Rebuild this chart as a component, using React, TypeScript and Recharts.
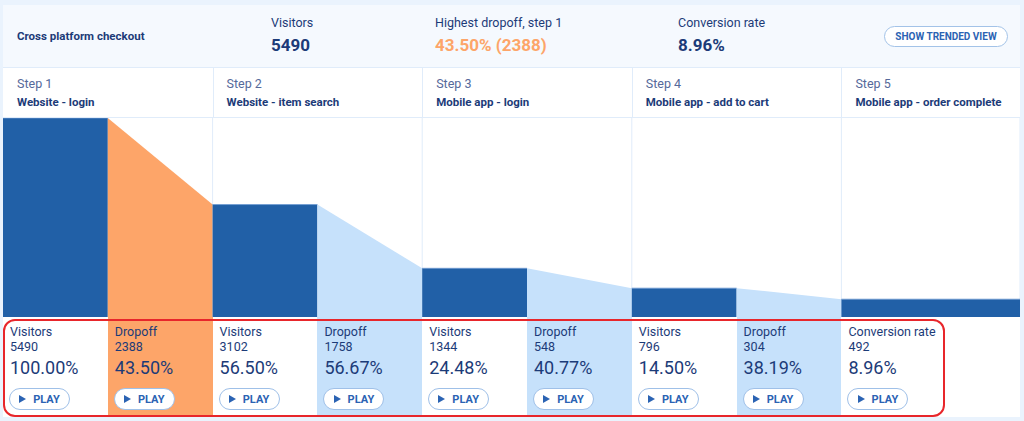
import React from "react"
import { ComposedChart, Area, XAxis, YAxis, CartesianGrid } from "recharts"

// funnel data
const stepNames = [
  "Website - login",
  "Website - item search",
  "Mobile app - login",
  "Mobile app - add to cart",
  "Mobile app - order complete",
]
const visitors = [5490, 3102, 1344, 796, 492]
const dropoffs = [2388, 1758, 548, 304]
const visitorPct = ["100.00%", "56.50%", "24.48%", "14.50%", "8.96%"]
const dropoffPct = ["43.50%", "56.67%", "40.77%", "38.19%"]

const DARK = "#2160a7"
const ORANGE = "#fda569"
const LIGHT = "#c6e1fb"
const NAVY = "#1c3b78"
const LINE = "#e0ecfa"
const FONT = "Roboto, 'Noto Sans', sans-serif"

const LEFT = 3
const RIGHT = 1020
const HALF = 104.8 // px per half column
const XMAX = (RIGHT - LEFT) / HALF

const highest = dropoffs.indexOf(Math.max(...dropoffs))
const segCount = visitors.length * 2 - 1

const segValue = (k: number, end: number) => {
  if (k % 2 === 0) return visitors[k / 2]
  const i = (k - 1) / 2
  return end === 0 ? visitors[i] : visitors[i + 1]
}

const rows = Array.from({ length: segCount + 1 }, (_, p) => {
  const row: Record<string, number> = { x: p < segCount ? p : XMAX }
  for (const k of [p - 1, p]) {
    if (k >= 0 && k < segCount) row[`s${k}`] = segValue(k, p - k)
  }
  return row
})

const segFill = (k: number) =>
  k % 2 === 0 ? DARK : (k - 1) / 2 === highest ? ORANGE : LIGHT

function PlayButton({ left, top }: { left: number; top: number }) {
  return (
    <div
      style={{
        position: "absolute",
        left,
        top,
        width: 61,
        height: 22,
        boxSizing: "border-box",
        border: "1px solid #9fc0e8",
        borderRadius: 11,
        background: "#fff",
        display: "flex",
        alignItems: "center",
        justifyContent: "center",
        gap: 7,
        color: "#2b63b3",
        fontWeight: 700,
        fontSize: 11,
      }}
    >
      <svg width="7" height="8" viewBox="0 0 7 8">
        <polygon points="0,0 7,4 0,8" fill="#2b63b3" />
      </svg>
      <span>PLAY</span>
    </div>
  )
}

export default function App() {
  const colStarts = stepNames.map((_, i) => LEFT + i * 2 * HALF)

  const cards = Array.from({ length: segCount }, (_, k) => {
    const isDrop = k % 2 === 1
    const i = Math.floor(k / 2)
    const last = k === segCount - 1
    return {
      left: LEFT + k * HALF,
      bg: isDrop ? segFill(k) : "#fff",
      label: isDrop ? "Dropoff" : last ? "Conversion rate" : "Visitors",
      count: isDrop ? dropoffs[i] : visitors[i],
      pct: isDrop ? dropoffPct[i] : visitorPct[i],
    }
  })

  return (
    <div
      style={{
        position: "absolute",
        left: 0,
        top: 0,
        width: 1024,
        height: 421,
        background: "#eaf3fd",
        fontFamily: FONT,
        color: NAVY,
        overflow: "hidden",
      }}
    >
      {/* card */}
      <div style={{ position: "absolute", left: LEFT, top: 5, width: RIGHT - LEFT, height: 412, background: "#fff" }} />
      <div
        style={{
          position: "absolute",
          left: LEFT,
          top: 5,
          width: RIGHT - LEFT,
          height: 62,
          background: "#f5f9fe",
          borderBottom: `1px solid ${LINE}`,
        }}
      />
      <div style={{ position: "absolute", left: 17, top: 28, fontSize: 11.5, fontWeight: 700, lineHeight: "16px" }}>
        Cross platform checkout
      </div>
      <div style={{ position: "absolute", left: 271, top: 15, fontSize: 12.5, lineHeight: "16px" }}>Visitors</div>
      <div style={{ position: "absolute", left: 271, top: 35, fontSize: 17, fontWeight: 700, lineHeight: "20px" }}>
        {visitors[0]}
      </div>
      <div style={{ position: "absolute", left: 435, top: 15, fontSize: 12.5, lineHeight: "16px" }}>
        Highest dropoff, step {highest + 1}
      </div>
      <div
        style={{ position: "absolute", left: 435, top: 35, fontSize: 17, fontWeight: 700, lineHeight: "20px", color: ORANGE }}
      >
        {dropoffPct[highest]} ({dropoffs[highest]})
      </div>
      <div style={{ position: "absolute", left: 678, top: 15, fontSize: 12.5, lineHeight: "16px" }}>Conversion rate</div>
      <div style={{ position: "absolute", left: 678, top: 35, fontSize: 17, fontWeight: 700, lineHeight: "20px" }}>
        {visitorPct[visitorPct.length - 1]}
      </div>
      <div
        style={{
          position: "absolute",
          left: 884,
          top: 26,
          width: 124,
          height: 21,
          boxSizing: "border-box",
          border: "1px solid #a3c3e8",
          borderRadius: 11,
          background: "#fff",
          display: "flex",
          alignItems: "center",
          justifyContent: "center",
          fontSize: 10,
          fontWeight: 700,
          color: "#2b63b3",
        }}
      >
        SHOW TRENDED VIEW
      </div>

      {/* step headers */}
      {stepNames.map((name, i) => (
        <React.Fragment key={name}>
          {i > 0 && (
            <div style={{ position: "absolute", left: colStarts[i], top: 68, width: 1, height: 50, background: LINE }} />
          )}
          <div
            style={{ position: "absolute", left: colStarts[i] + 14, top: 76, fontSize: 12.5, lineHeight: "16px", color: "#55699a" }}
          >
            Step {i + 1}
          </div>
          <div style={{ position: "absolute", left: colStarts[i] + 14, top: 94, fontSize: 11.5, fontWeight: 700, lineHeight: "16px" }}>
            {name}
          </div>
        </React.Fragment>
      ))}
      <div style={{ position: "absolute", left: LEFT, top: 117, width: RIGHT - LEFT, height: 1, background: LINE }} />

      {/* funnel */}
      <div style={{ position: "absolute", left: LEFT, top: 118 }}>
        <ComposedChart width={RIGHT - LEFT} height={199} data={rows} margin={{ top: 0, right: 0, bottom: 0, left: 0 }}>
          <CartesianGrid horizontal={false} stroke={LINE} />
          <XAxis type="number" dataKey="x" domain={[0, XMAX]} ticks={[2, 4, 6, 8]} hide allowDataOverflow />
          <YAxis type="number" domain={[0, visitors[0]]} hide allowDataOverflow />
          {Array.from({ length: segCount }, (_, k) => (
            <Area
              key={k}
              type="linear"
              dataKey={`s${k}`}
              fill={segFill(k)}
              fillOpacity={1}
              stroke={k % 2 === 0 ? "#6f9bd3" : "none"}
              strokeWidth={k % 2 === 0 ? 0.8 : 0}
              dot={false}
              activeDot={false}
              connectNulls={false}
              isAnimationActive={false}
            />
          ))}
        </ComposedChart>
      </div>

      {/* step cards */}
      {cards.map((c, k) => (
        <div
          key={k}
          style={{
            position: "absolute",
            left: c.left,
            top: 317,
            width: k === segCount - 1 ? RIGHT - c.left : HALF,
            height: 100,
            background: c.bg,
          }}
        >
          <div style={{ position: "absolute", left: 7, top: 7, fontSize: 12.5, lineHeight: "16px", whiteSpace: "nowrap" }}>
            {c.label}
          </div>
          <div style={{ position: "absolute", left: 7, top: 22, fontSize: 12.5, lineHeight: "16px" }}>{c.count}</div>
          <div style={{ position: "absolute", left: 7, top: 40, fontSize: 18, lineHeight: "22px" }}>{c.pct}</div>
          <PlayButton left={6} top={71} />
        </div>
      ))}

      {/* highlight */}
      <div
        style={{
          position: "absolute",
          left: 3,
          top: 319,
          width: 942,
          height: 98,
          boxSizing: "border-box",
          border: "2.5px solid #e8262b",
          borderRadius: 12,
          pointerEvents: "none",
        }}
      />
    </div>
  )
}
